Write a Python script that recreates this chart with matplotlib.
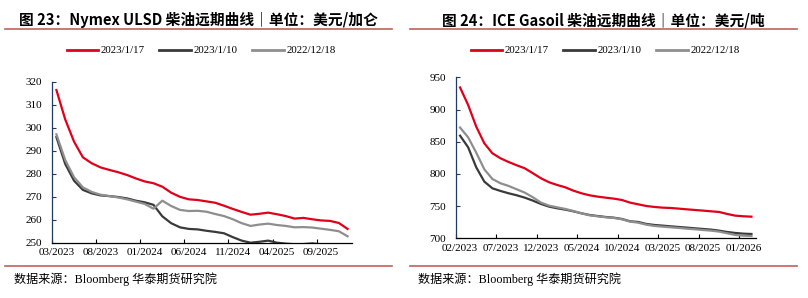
import matplotlib
matplotlib.use("Agg")
import matplotlib.pyplot as plt
from matplotlib.lines import Line2D

# ---------------- data ----------------
series_names = ["2023/1/17", "2023/1/10", "2022/12/18"]

# Nymex ULSD, monthly contracts 03/2023 .. 12/2025 (34 months)
ulsd_tick_labels = ["03/2023", "08/2023", "01/2024", "06/2024", "11/2024", "04/2025", "09/2025"]
ulsd_n_months = 34
ulsd_0117 = [316.5, 303.7, 294.0, 287.2, 284.6, 282.8, 281.7, 280.7, 279.5, 278.0,
             276.7, 275.9, 274.4, 271.8, 270.0, 268.9, 268.6, 268.0, 267.4, 266.1,
             264.7, 263.4, 262.2, 262.6, 263.1, 262.4, 261.6, 260.5, 260.8, 260.2,
             259.7, 259.5, 258.6, 256.0]
ulsd_0110 = [296.0, 284.3, 277.0, 273.0, 271.5, 270.6, 270.3, 269.9, 269.3, 268.3,
             267.6, 266.5, 261.5, 258.5, 256.7, 256.0, 255.8, 255.2, 254.7, 254.1,
             252.4, 250.9, 250.0, 250.4, 250.9, 250.0, 249.6, 249.3, 249.4, 249.7,
             249.3, 249.0, 248.6, 247.5]
ulsd_1218 = [297.2, 286.0, 278.5, 274.1, 272.1, 270.9, 270.3, 269.7, 268.9, 267.9,
             266.9, 264.8, 268.3, 266.0, 264.3, 263.8, 263.9, 263.5, 262.5, 261.6,
             260.2, 258.5, 257.3, 257.9, 258.3, 257.7, 257.3, 256.7, 256.8, 256.6,
             256.1, 255.6, 255.0, 252.8]

# ICE Gasoil, monthly contracts 02/2023 .. 02/2026 (37 months)
gasoil_tick_labels = ["02/2023", "07/2023", "12/2023", "05/2024", "10/2024", "03/2025", "08/2025", "01/2026"]
gasoil_n_months = 37
gasoil_0117 = [934.2, 907.0, 873.4, 847.5, 832.0, 824.2, 818.5, 813.4, 808.7, 801.0,
               793.2, 787.0, 782.8, 779.2, 774.0, 769.9, 766.8, 764.7, 763.1, 761.6,
               759.5, 755.4, 752.8, 750.2, 748.7, 747.6, 747.1, 746.1, 745.0, 744.0,
               743.0, 741.9, 740.9, 737.8, 735.2, 734.2, 733.6]
gasoil_0110 = [859.4, 841.3, 810.2, 788.0, 777.6, 773.5, 769.9, 766.8, 763.1, 758.5,
               753.3, 749.2, 746.6, 744.5, 741.9, 738.8, 736.2, 734.6, 733.1, 732.0,
               730.0, 726.4, 725.4, 722.3, 720.7, 719.7, 718.6, 717.6, 716.6, 715.5,
               714.5, 713.5, 711.9, 709.8, 708.3, 707.2, 706.7]
gasoil_1218 = [872.0, 856.8, 833.0, 807.1, 792.1, 785.4, 781.3, 776.1, 770.9, 763.7,
               755.4, 750.7, 748.1, 745.6, 742.4, 738.8, 735.7, 734.1, 732.6, 731.6,
               729.5, 725.9, 724.3, 721.2, 719.2, 718.1, 717.1, 716.1, 715.0, 714.0,
               712.9, 711.9, 710.4, 707.8, 705.2, 704.1, 703.6]

# ---------------- style ----------------
W, H = 808, 298
DPI = 100
colors = ["#E1001A", "#3A3A3A", "#8E8E8E"]
rule_color = "#C0605C"
spine_y_color = "#1F3A68"
serif = ["Liberation Serif", "Noto Sans CJK SC"]

fig = plt.figure(figsize=(W / DPI, H / DPI), dpi=DPI)


def px_axes(x0, x1, ytop, ybot):
    return fig.add_axes([x0 / W, 1 - ybot / H, (x1 - x0) / W, (ybot - ytop) / H])


def draw_panel(ax, n, data, ylim, yticks, tick_labels):
    xs = list(range(n))
    for vals, c, name in zip(data, colors, series_names):
        ax.plot(xs, vals, color=c, lw=1.6, label=name, solid_joinstyle="round")
    ax.set_xlim(-0.5, n - 0.5)
    ax.set_ylim(*ylim)
    ax.set_yticks(yticks)
    ax.set_yticklabels([str(v) for v in yticks], fontfamily=serif, fontsize=8.0)
    # boundary ticks (between categories)
    bounds = [-0.5 + 5 * k for k in range(len(tick_labels))]
    ax.set_xticks(bounds)
    ax.set_xticklabels([])
    ax.set_xticks([5 * k for k in range(len(tick_labels))], minor=True)
    ax.set_xticklabels(tick_labels, minor=True, fontfamily=serif, fontsize=8.0)
    ax.tick_params(axis="x", which="major", direction="in", length=3, width=0.8, color="black")
    ax.tick_params(axis="x", which="minor", length=0, pad=4.0)
    ax.tick_params(axis="y", direction="in", length=3, width=0.8, color=spine_y_color, pad=7)
    for s in ["top", "right"]:
        ax.spines[s].set_visible(False)
    ax.spines["left"].set_color(spine_y_color)
    ax.spines["left"].set_linewidth(0.9)
    ax.spines["bottom"].set_color("black")
    ax.spines["bottom"].set_linewidth(0.9)
    ax.patch.set_alpha(0)


ax1 = px_axes(52, 352, 82, 242.7)
draw_panel(ax1, ulsd_n_months, [ulsd_0117, ulsd_0110, ulsd_1218], (250, 320),
           list(range(250, 321, 10)), ulsd_tick_labels)

ax2 = px_axes(456, 755.5, 77.3, 238.3)
draw_panel(ax2, gasoil_n_months, [gasoil_0117, gasoil_0110, gasoil_1218], (700, 950),
           list(range(700, 951, 50)), gasoil_tick_labels)

# titles
title_font = ["Noto Sans CJK SC"]
fig.text(198.5 / W, 1 - 20 / H, "图 23：Nymex ULSD 柴油远期曲线｜单位：美元/加仑",
         ha="center", va="center", fontsize=10.6, fontweight="bold", family=title_font)
fig.text(603.5 / W, 1 - 20 / H, "图 24：ICE Gasoil 柴油远期曲线｜单位：美元/吨",
         ha="center", va="center", fontsize=10.6, fontweight="bold", family=title_font)

# rules
for (x0, x1) in [(5, 392), (410, 797)]:
    for y in (29.3, 266):
        fig.add_artist(Line2D([x0 / W, x1 / W], [1 - y / H, 1 - y / H],
                              color=rule_color, lw=1.2, transform=fig.transFigure))

# legends
for ax, cx in [(ax1, 201), (ax2, 605)]:
    handles, labels = ax.get_legend_handles_labels()
    leg = fig.legend(handles, labels, loc="center", bbox_to_anchor=(cx / W, 1 - 50.7 / H),
                     ncol=3, frameon=False, handlelength=2.9, handletextpad=0.25,
                     columnspacing=1.35, prop={"family": serif, "size": 7.8})
    for ln in leg.get_lines():
        ln.set_linewidth(2.0)

# source notes
for x in (14, 418):
    fig.text(x / W, 1 - 279 / H, "数据来源：Bloomberg 华泰期货研究院",
             ha="left", va="center", fontsize=8.7, family=serif)

fig.savefig("out.png", dpi=DPI)
